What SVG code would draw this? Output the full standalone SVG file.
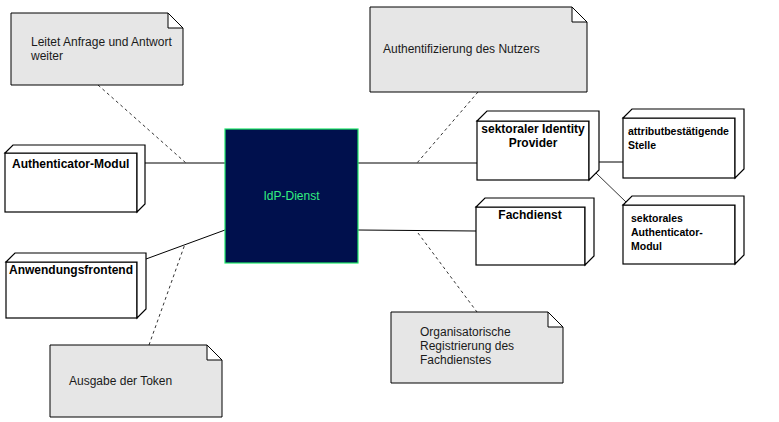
<svg xmlns="http://www.w3.org/2000/svg" width="779" height="422" viewBox="0 0 779 422">
<style>
.note{fill:#E6E6E6;stroke:#000;stroke-width:1}
.fold{fill:#fff;stroke:#000;stroke-width:1}
.box{fill:#fff;stroke:#000;stroke-width:1.2;stroke-linejoin:miter}
.nt{font-family:"Liberation Sans",Arial,sans-serif;font-size:12px;fill:#1a1a1a}
.bt{font-family:"Liberation Sans",Arial,sans-serif;font-size:12px;font-weight:bold;fill:#000}
.st{font-family:"Liberation Sans",Arial,sans-serif;font-size:10.5px;font-weight:bold;fill:#000}
.ln{stroke:#000;stroke-width:1;fill:none}
.dash{stroke:#333;stroke-width:1;stroke-dasharray:3,3;fill:none}
</style>
<rect width="779" height="422" fill="#fff"/>
<g id="connectors">
<line class="ln" x1="145" y1="163" x2="225" y2="163"/>
<line class="ln" x1="146" y1="259" x2="225" y2="230"/>
<line class="ln" x1="358" y1="163" x2="477" y2="163"/>
<line class="ln" x1="358" y1="230" x2="476" y2="231" stroke="#444"/>
<line class="ln" x1="598" y1="162" x2="623" y2="162"/>
<line x1="596" y1="173" x2="626" y2="202" stroke="#000" stroke-width="0.8"/>
<line class="dash" x1="98" y1="85" x2="186" y2="163"/>
<line class="dash" x1="149" y1="345" x2="185" y2="244"/>
<line class="dash" x1="478" y1="92" x2="417" y2="163"/>
<line class="dash" x1="418" y1="233" x2="477" y2="312"/>
</g>
<g id="note-leitet">
<path class="note" d="M11,13 H168 L183,28 V85 H11 Z"/>
<path class="fold" d="M168,13 V28 H183 Z"/>
<text class="nt" x="31" y="46">Leitet Anfrage und Antwort</text>
<text class="nt" x="31" y="60">weiter</text>
</g>
<g id="note-auth">
<path class="note" d="M370,7 H572 L587,22 V92 H370 Z"/>
<path class="fold" d="M572,7 V22 H587 Z"/>
<text class="nt" x="383" y="53">Authentifizierung des Nutzers</text>
</g>
<g id="note-token">
<path class="note" d="M50,345 H207 L222,360 V417 H50 Z"/>
<path class="fold" d="M207,345 V360 H222 Z"/>
<text class="nt" x="69" y="385">Ausgabe der Token</text>
</g>
<g id="note-org">
<path class="note" d="M391,312 H548 L563,327 V383 H391 Z"/>
<path class="fold" d="M548,312 V327 H563 Z"/>
<text class="nt" x="420" y="336">Organisatorische</text>
<text class="nt" x="420" y="350">Registrierung des</text>
<text class="nt" x="420" y="364">Fachdienstes</text>
</g>
<g id="idp-dienst">
<rect x="225" y="129" width="133" height="134" fill="#00104D" stroke="#1EE86A" stroke-width="1.2"/>
<text x="291.5" y="200" text-anchor="middle" font-family="Liberation Sans,Arial,sans-serif" font-size="12" fill="#33EE80">IdP-Dienst</text>
</g>
<g id="authenticator-modul">
<rect class="box" x="5" y="153" width="132" height="59"/>
<path class="box" d="M5,153 L13,145 H145 V204 L137,212 V153 Z"/>
<text class="bt" x="12" y="168">Authenticator-Modul</text>
</g>
<g id="anwendungsfrontend">
<rect class="box" x="6" y="262" width="131" height="56"/>
<path class="box" d="M6,262 L15,253 H146 V309 L137,318 V262 Z"/>
<text class="bt" x="9" y="274">Anwendungsfrontend</text>
</g>
<g id="sektoraler-idp">
<rect class="box" x="477" y="121" width="112" height="59"/>
<path class="box" d="M477,121 L487,111 H599 V170 L589,180 V121 Z"/>
<text class="bt" x="533" y="133" text-anchor="middle">sektoraler Identity</text>
<text class="bt" x="533" y="147" text-anchor="middle">Provider</text>
</g>
<g id="attributstelle">
<rect class="box" x="623" y="118" width="112" height="60"/>
<path class="box" d="M623,118 L632,109 H744 V169 L735,178 V118 Z"/>
<text class="st" x="628" y="135">attributbestätigende</text>
<text class="st" x="628" y="149">Stelle</text>
</g>
<g id="sektorales-auth">
<rect class="box" x="623" y="205" width="112" height="59"/>
<path class="box" d="M623,205 L632,196 H744 V255 L735,264 V205 Z"/>
<text class="st" x="631" y="222">sektorales</text>
<text class="st" x="631" y="236">Authenticator-</text>
<text class="st" x="631" y="250">Modul</text>
</g>
<g id="fachdienst">
<rect class="box" x="476" y="207" width="109" height="58"/>
<path class="box" d="M476,207 L485,198 H594 V256 L585,265 V207 Z"/>
<text class="bt" x="530" y="219" text-anchor="middle">Fachdienst</text>
</g>
</svg>
